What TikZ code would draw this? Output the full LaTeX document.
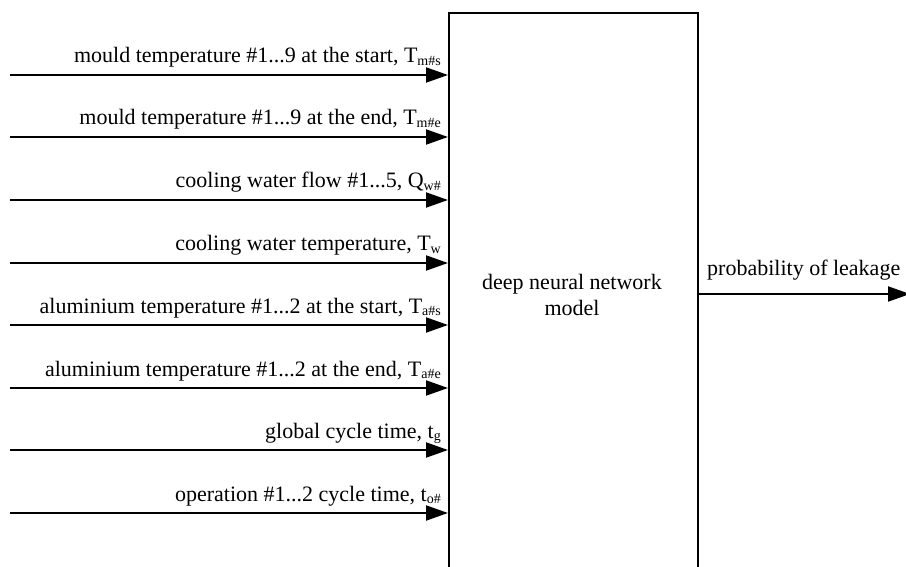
\documentclass[tikz,border=0pt]{standalone}
\usepackage{fontspec}
\setmainfont{Liberation Serif}
\usetikzlibrary{arrows.meta}
\newcommand{\sbs}[1]{\raisebox{-0.25ex}{\fontsize{14}{14}\selectfont #1}}
\tikzset{
  flow/.style={line width=2pt, -{Triangle[length=22pt,width=15pt]}},
  lbl/.style={anchor=base east, inner sep=0pt, font=\fontsize{22}{26}\selectfont},
  modelbox/.style={draw, line width=2pt, minimum width=249pt, minimum height=620pt,
    anchor=north west, inner sep=0pt}
}
\begin{document}
\begin{tikzpicture}[x=1pt,y=-1pt]
\clip (0,0) rectangle (906,567);
\node[modelbox] (dnn) at (448,12) {};
\node[align=center, inner sep=0pt, font=\fontsize{22}{26}\selectfont] (dnnlbl) at (572,295) {deep neural network\\model};
% inputs
\foreach \i/\y/\t in {
  1/75/{mould temperature \#1...9 at the start, T\sbs{m\#s}},
  2/137/{mould temperature \#1...9 at the end, T\sbs{m\#e}},
  3/200/{cooling water flow \#1...5, Q\sbs{w\#}},
  4/263/{cooling water temperature, T\sbs{w}},
  5/325/{aluminium temperature \#1...2 at the start, T\sbs{a\#s}},
  6/388/{aluminium temperature \#1...2 at the end, T\sbs{a\#e}},
  7/450/{global cycle time, t\sbs{g}},
  8/513/{operation \#1...2 cycle time, t\sbs{o\#}}}{
  \coordinate (in\i) at (10,\y);
  \draw[flow] (in\i) -- (in\i -| dnn.west);
  \node[lbl] (lab\i) at (441,\y-12) {\t};
}
% output
\coordinate (out) at (910,294);
\draw[flow] (dnn.east |- out) -- (out);
\node[anchor=base west, inner sep=0pt, font=\fontsize{22}{26}\selectfont] (outlbl) at (707,276) {probability of leakage};
\end{tikzpicture}
\end{document}
